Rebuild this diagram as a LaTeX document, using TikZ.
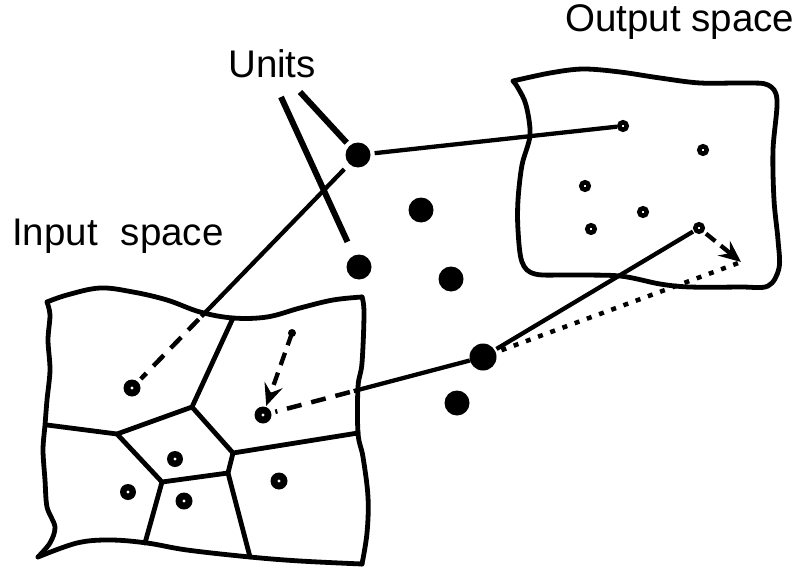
\documentclass[tikz,border=0pt]{standalone}
\usepackage{fontspec}
\setmainfont{Liberation Sans}
\usetikzlibrary{arrows.meta}
\begin{document}
\begin{tikzpicture}[x=1pt,y=-1pt,
  outline/.style={line width=4.8pt,line cap=round,line join=round},
  conn/.style={line width=4.3pt},
  dashconn/.style={line width=4.5pt,dash pattern=on 15pt off 10pt},
  dotconn/.style={line width=4.5pt,dash pattern=on 5pt off 8pt},
  labline/.style={line width=6pt},
  unit/.style={circle,fill=black,minimum size=25pt,inner sep=0pt},
  indot/.style={circle,fill=black,minimum size=17pt,inner sep=0pt,
    path picture={\fill[white] (path picture bounding box.center) circle (1.6pt);}},
  outdot/.style={circle,draw=black,fill=white,line width=4.5pt,minimum size=7.5pt,inner sep=0pt},
  lab/.style={anchor=base west,inner sep=0pt,font=\fontsize{38.5}{46}\selectfont},
  tip/.style={-{Stealth[length=22pt,width=19pt,inset=8pt]}}
]
\useasboundingbox (0,0) rectangle (799,572);

% Labels
\node[lab] (lout) at (565,32) {Output space};
\node[lab] (lunits) at (228,78) {Units};
\node[lab] (lin) at (12,245) {Input\hspace{23pt}space};

% Input space outline
\draw[outline] plot[smooth,tension=0.6] coordinates {(47,302) (67,295) (100,288) (133,292) (167,300) (200,312) (233,318) (267,317) (300,308) (333,300) (362,297)};
\draw[outline] plot[smooth,tension=0.6] coordinates {(362,297) (364,313) (362,363) (358,387) (358,433) (363,457) (368,497) (367,533) (362,564)};
\draw[outline] plot[smooth,tension=0.6] coordinates {(362,564) (300,561) (250,557) (187,550) (147,543) (110,540) (77,543) (38,557)};
\draw[outline] plot[smooth,tension=0.5] coordinates {(38,557) (50,543) (55,527) (47,507) (45,480) (43,450) (45,425) (47,400) (50,370) (48,340) (50,315) (47,302)};

% Voronoi cells
\coordinate (v1) at (192,407);
\coordinate (v2) at (117,434);
\coordinate (v3) at (233,453);
\coordinate (v4) at (228,473);
\coordinate (v5) at (162,482);
\coordinate (t1) at (233,318);
\coordinate (l1) at (47,425);
\coordinate (r1) at (358,433);
\coordinate (b1) at (145,543);
\coordinate (b2) at (250,557);
\draw[outline] (t1) -- (v1) -- (v2) -- (l1);
\draw[outline] (v1) -- (v3) -- (r1);
\draw[outline] (v3) -- (v4) -- (v5) -- (v2);
\draw[outline] (v5) -- (b1);
\draw[outline] (v4) -- (b2);

% Output space outline
\draw[outline] plot[smooth,tension=0.55] coordinates {(513,81) (550,73) (583,69) (620,72) (660,78) (700,83) (745,83) (768,85) (777,100) (773,150) (774,200) (778,240) (779,268) (768,286) (740,287) (690,287) (660,284) (620,276) (570,275) (535,274) (522,262) (518,230) (518,200) (522,165) (530,135) (526,105) (518,88) (513,81)};

% Units
\node[unit] (u1) at (358,155) {};
\node[unit] (u2) at (421,210) {};
\node[unit] (u3) at (359,267) {};
\node[unit] (u4) at (451,279) {};
\node[unit,minimum size=27pt] (u5) at (483,357) {};
\node[unit] (u6) at (457,403) {};

% Input dots
\node[indot] (i1) at (132,388) {};
\node[indot] (i2) at (263,415) {};
\node[indot,minimum size=16pt] (i3) at (175,459) {};
\node[indot,minimum size=16pt] (i4) at (128,492) {};
\node[indot] (i5) at (184,501) {};
\node[indot] (i6) at (279,481) {};

% Output dots
\node[outdot] (o1) at (623,126) {};
\node[outdot] (o2) at (703,150) {};
\node[outdot] (o3) at (585,186) {};
\node[outdot] (o4) at (643,212) {};
\node[outdot] (o5) at (591,229) {};
\node[outdot] (o6) at (699,228) {};

% Units label lines
\coordinate (ul1) at (281,97);
\coordinate (ul2) at (300,92);
\draw[labline,shorten >=15pt] (ul1) -- (u3);
\draw[labline,shorten >=4pt] (ul2) -- (u1);

% Connections
\draw[conn,shorten <=4pt] (u1) -- (o1);
\path (u1) -- (i1) coordinate[pos=0.70] (c1);
\draw[conn,shorten <=7pt] (u1) -- (c1);
\draw[dashconn,shorten <=4pt,shorten >=4pt] (c1) -- (i1);

\path (u5) -- (i2) coordinate[pos=0.585] (c2);
\draw[conn] (u5) -- (c2);
\draw[dashconn,shorten <=4pt,shorten >=4pt] (c2) -- (i2);

\draw[conn,shorten <=2pt,shorten >=1pt] (u5) -- (o6);
\coordinate (tg) at (741,262);
\draw[dotconn,shorten <=6pt] (u5) -- (tg);
\draw[line width=4.3pt,dash pattern=on 12pt off 7pt,tip,shorten <=3pt] (o6) -- (tg);

% Input arrow
\coordinate (a0) at (292,333);
\fill (a0) circle (4pt);
\draw[line width=4.3pt,dash pattern=on 13pt off 8pt,tip,shorten >=1pt] (a0) -- (i2);
\end{tikzpicture}
\end{document}
